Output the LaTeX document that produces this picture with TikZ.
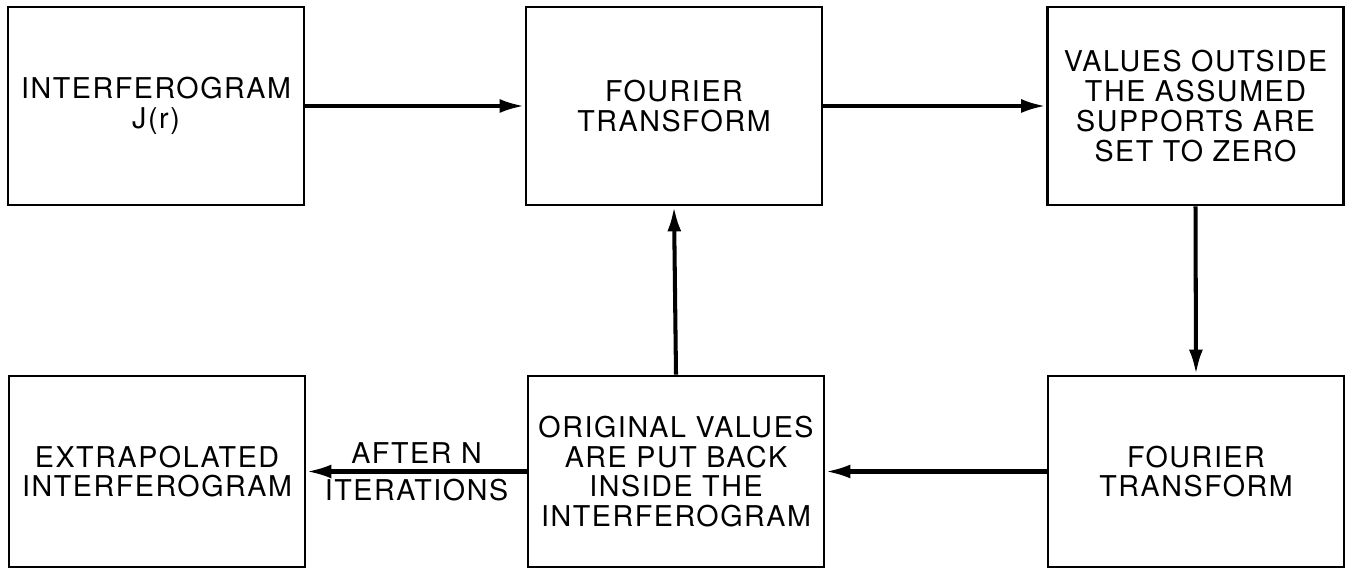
\documentclass[tikz,border=0pt]{standalone}
\usepackage{fontspec}
\usepackage{tikz}
\usetikzlibrary{arrows.meta}
\newfontfamily\flowfont[LetterSpace=5.5]{TeX Gyre Heros}

\begin{document}
\begin{tikzpicture}[x=1cm, y=1cm,
  box/.style={draw, line width=1.6pt, minimum width=5.92cm, align=center, inner sep=0pt,
    font=\flowfont\fontsize{16.3}{17}\selectfont},
  flow/.style={line width=2.3pt, -{Latex[length=0.5cm, width=0.28cm]}},
  tag/.style={font=\flowfont\fontsize{16.3}{17}\selectfont}]
\path[use as bounding box] (0,0) rectangle (26.96,11.46);
% upper row
\node[box, minimum height=3.96cm] (interf) at (3.12,9.34) {INTERFEROGRAM\\J(r)};
\node[box, minimum height=3.96cm] (fourier) at (13.48,9.34) {FOURIER\\TRANSFORM};
\node[box, minimum height=3.96cm] (support) at (23.91,9.34) {VALUES OUTSIDE\\THE ASSUMED\\SUPPORTS ARE\\SET TO ZERO};
% lower row
\node[box, minimum height=3.82cm] (extrap) at (3.14,2.03) {EXTRAPOLATED\\INTERFEROGRAM};
\node[box, minimum height=3.82cm] (restore) at (13.52,2.03) {ORIGINAL VALUES\\ARE PUT BACK\\INSIDE THE\\INTERFEROGRAM};
\node[box, minimum height=3.82cm] (fourierb) at (23.92,2.03) {FOURIER\\TRANSFORM};
% connectors
\draw[flow] (interf.east) -- (fourier.west);
\draw[flow] (fourier.east) -- (support.west);
\draw[flow] (support.south) -- (fourierb.north);
\draw[flow] (fourierb.west) -- (restore.east);
\draw[flow] (restore.north) -- (fourier.south);
\draw[flow] (restore.west) -- node[tag, above] {AFTER N} node[tag, below] {ITERATIONS} (extrap.east);
\end{tikzpicture}
\end{document}
